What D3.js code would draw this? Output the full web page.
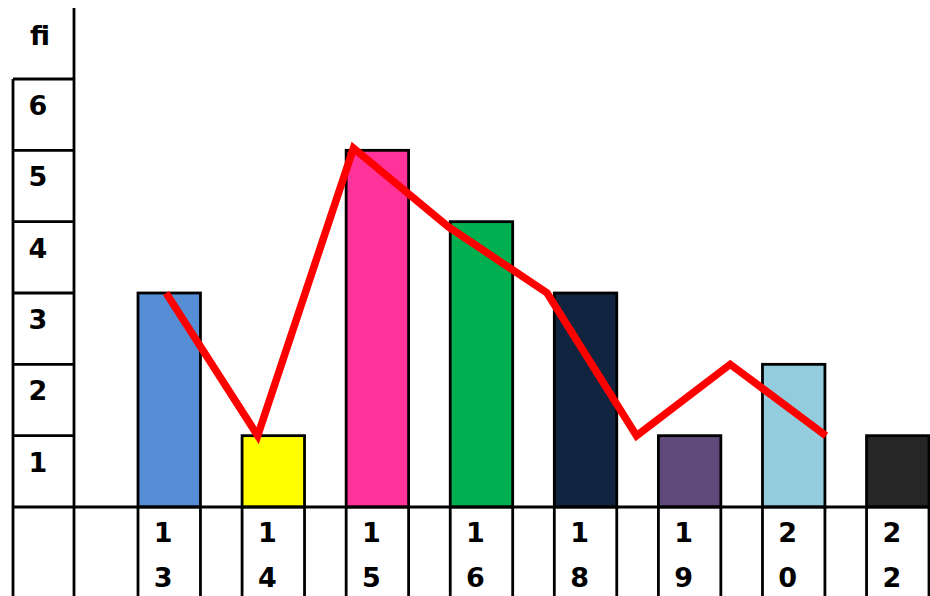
<!DOCTYPE html>
<html>
<head>
<meta charset="utf-8">
<script src="https://cdn.jsdelivr.net/npm/d3@7"></script>
<style>
html,body{margin:0;padding:0;background:#fff;}
svg{display:block;}
text{font-family:"DejaVu Sans",Verdana,sans-serif;font-weight:bold;fill:#000;}
</style>
</head>
<body>
<svg id="chart" width="930" height="596"></svg>
<script>
// Data
const categories = ["13","14","15","16","18","19","20","22"];
const frequencies = [3,1,5,4,3,1,2,1];
const barColors = ["#558ED5","#FFFF00","#FF3399","#00B050","#10243F","#604A7B","#93CDDD","#262626"];
// polygon line: positions in category-index units and values
const linePosIndex = [0.27,1.15,2.07,2.98,3.93,4.79,5.69,6.61];
const lineValues = [3,1,5.03,3.93,3,1,2,1];
const yTicks = [1,2,3,4,5,6];
const yTitle = "fi";

const svg = d3.select("#chart");
const W = 930, H = 596;
const colL = 13, colR = 74;

const y = d3.scaleLinear().domain([0,6]).range([507,79]);
const x = d3.scaleBand().domain(categories).range([138,929]).paddingInner(0.4).paddingOuter(0);
const xi = d3.scaleLinear().domain([0,1]).range([x(categories[0]), x(categories[0]) + x.step()]);

const stroke = "#000", sw = 2.8;

// bars
svg.append("g").selectAll("rect").data(categories).join("rect")
  .attr("x", d => x(d))
  .attr("y", (d,i) => y(frequencies[i]))
  .attr("width", x.bandwidth())
  .attr("height", (d,i) => y(0) - y(frequencies[i]))
  .attr("fill", (d,i) => barColors[i])
  .attr("stroke", stroke).attr("stroke-width", sw);

// grid / table lines
const g = svg.append("g").attr("stroke", stroke).attr("stroke-width", sw);
g.append("line").attr("x1", colR).attr("x2", colR).attr("y1", 8).attr("y2", H);
g.append("line").attr("x1", colL).attr("x2", colL).attr("y1", y(6)).attr("y2", H);
g.selectAll("line.tick").data(yTicks).join("line").attr("class","tick")
  .attr("x1", colL).attr("x2", colR).attr("y1", d => y(d)).attr("y2", d => y(d));
g.append("line").attr("x1", colL).attr("x2", W).attr("y1", y(0)).attr("y2", y(0));
const edges = [];
categories.forEach(c => { edges.push(x(c)); edges.push(x(c) + x.bandwidth()); });
g.selectAll("line.edge").data(edges).join("line").attr("class","edge")
  .attr("x1", d => d).attr("x2", d => d).attr("y1", y(0)).attr("y2", H);

// y labels
svg.append("g").selectAll("text").data(yTicks).join("text")
  .attr("x", 38).attr("y", d => y(d) + 36)
  .attr("text-anchor","middle").attr("font-size", 27)
  .text(d => d);
svg.append("text").attr("x", 40).attr("y", 45).attr("text-anchor","middle")
  .attr("font-size", 27).text(yTitle);

// x labels (stacked digits)
const xl = svg.append("g");
categories.forEach(c => {
  const cx = x(c) + x.bandwidth()/2 - 6;
  c.split("").forEach((ch, k) => {
    xl.append("text").attr("x", cx).attr("y", 542 + k*45)
      .attr("text-anchor","middle").attr("font-size", 27).text(ch);
  });
});

// red polygon line
const line = d3.line().x((d,i) => xi(linePosIndex[i])).y(d => y(d));
svg.append("path").datum(lineValues)
  .attr("d", line)
  .attr("fill","none").attr("stroke","#FF0000").attr("stroke-width", 7.5)
  .attr("stroke-linejoin","miter");
</script>
</body>
</html>
